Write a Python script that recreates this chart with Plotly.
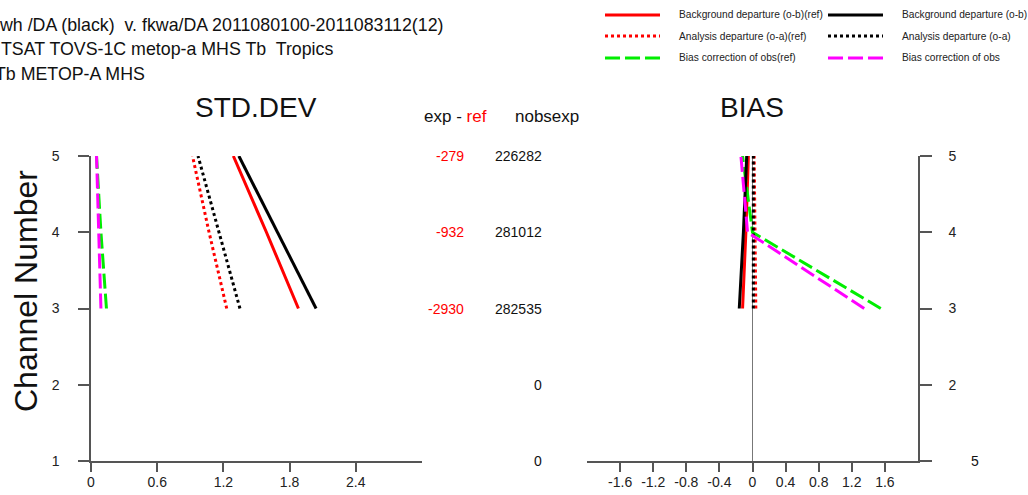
import plotly.graph_objects as go

W, H = 1028, 495

# ---------------- data ----------------
channels = [3, 4, 5]
std_bg_ref = [1.88, 1.59, 1.29]
std_bg_exp = [2.04, 1.69, 1.34]
std_an_ref = [1.23, 1.07, 0.92]
std_an_exp = [1.35, 1.16, 0.97]
std_bc_ref = [0.14, 0.09, 0.05]
std_bc_exp = [0.09, 0.07, 0.05]

bias_bg_ref = [-0.12, -0.08, -0.05]
bias_bg_exp = [-0.16, -0.11, -0.07]
bias_an_ref = [0.04, 0.03, 0.02]
bias_an_exp = [0.01, 0.01, 0.01]
bias_bc_ref = [1.55, 0.00, -0.12]
bias_bc_exp = [1.35, -0.06, -0.14]

diff_channels = [3, 4, 5]
diff_vals = [-2930, -932, -279]
nobs_channels = [1, 2, 3, 4, 5]
nobs_vals = [0, 0, 282535, 281012, 226282]

y_ticks = [1, 2, 3, 4, 5]
std_xticks = [0, 0.6, 1.2, 1.8, 2.4]
std_xlabels = ["0", "0.6", "1.2", "1.8", "2.4"]
bias_xticks = [-1.6, -1.2, -0.8, -0.4, 0, 0.4, 0.8, 1.2, 1.6]
bias_xlabels = ["-1.6", "-1.2", "-0.8", "-0.4", "0", "0.4", "0.8", "1.2", "1.6"]

title_lines = [
    "wh /DA (black)  v. fkwa/DA 2011080100-2011083112(12)",
    "TSAT TOVS-1C metop-a MHS Tb  Tropics",
    "Tb METOP-A MHS",
]

series = [
    ("Background departure (o-b)(ref)", "#ff0000", "solid", std_bg_ref, bias_bg_ref),
    ("Analysis departure (o-a)(ref)", "#ff0000", "3px,3px", std_an_ref, bias_an_ref),
    ("Bias correction of obs(ref)", "#00ee00", "15px,5px", std_bc_ref, bias_bc_ref),
    ("Background departure (o-b)", "#000000", "solid", std_bg_exp, bias_bg_exp),
    ("Analysis departure (o-a)", "#000000", "3px,3px", std_an_exp, bias_an_exp),
    ("Bias correction of obs", "#ff00ff", "15px,5px", std_bc_exp, bias_bc_exp),
]

FONT = "Liberation Sans, Arial, Helvetica, sans-serif"
AX = "#555555"


def px(x):
    return x / W


def py(y):
    return 1 - y / H


fig = go.Figure()
for name, col, dash, sv, bv in series:
    fig.add_trace(go.Scatter(x=sv, y=channels, mode="lines", name=name,
                             line=dict(color=col, width=3, dash=dash),
                             xaxis="x", yaxis="y", showlegend=False))
    fig.add_trace(go.Scatter(x=bv, y=channels, mode="lines", name=name,
                             line=dict(color=col, width=3, dash=dash),
                             xaxis="x2", yaxis="y2", showlegend=False))

ydom = [py(461), py(156)]

fig.update_layout(
    template="none",
    width=W, height=H, autosize=False,
    margin=dict(l=0, r=0, t=0, b=0, pad=0),
    paper_bgcolor="white", plot_bgcolor="white",
    font=dict(family=FONT, color="#222222", size=14),
    xaxis=dict(domain=[px(91), px(422)], range=[0, 3], anchor="y", automargin=False,
               showgrid=False, zeroline=False, showline=True, linecolor=AX, linewidth=1.5,
               ticks="outside", ticklen=9, tickwidth=1.5, tickcolor=AX,
               tickvals=std_xticks, ticktext=std_xlabels, tickfont=dict(size=14),
               ticklabelstandoff=-2),
    yaxis=dict(domain=ydom, range=[1, 5], anchor="x", automargin=False,
               showgrid=False, zeroline=False, showline=True, linecolor=AX, linewidth=1.5,
               ticks="outside", ticklen=11, tickwidth=1.5, tickcolor=AX,
               tickvals=y_ticks, tickfont=dict(size=14), ticklabelstandoff=16),
    xaxis2=dict(domain=[px(587), px(918)], range=[-2, 2], anchor="y2", automargin=False,
                showgrid=False, zeroline=True, zerolinecolor="#777777", zerolinewidth=1,
                showline=True, linecolor=AX, linewidth=1.5,
                ticks="outside", ticklen=9, tickwidth=1.5, tickcolor=AX,
                tickvals=bias_xticks, ticktext=bias_xlabels, tickfont=dict(size=14),
                ticklabelstandoff=-2),
    yaxis2=dict(domain=ydom, range=[1, 5], anchor="x2", side="right", automargin=False,
                showgrid=False, zeroline=False, showline=True, linecolor=AX, linewidth=1.5,
                ticks="outside", ticklen=12, tickwidth=1.5, tickcolor=AX,
                tickvals=y_ticks, ticktext=["", "2", "3", "4", "5"],
                tickfont=dict(size=14), ticklabelstandoff=14),
)

ann = []
# title lines (clipped at the left edge like the reference)
title_x = [-3, -1, -7]
title_y = [25, 49, 74]
for t, xx, yy in zip(title_lines, title_x, title_y):
    ann.append(dict(text=t, x=px(xx), y=py(yy), xref="paper", yref="paper",
                    xanchor="left", yanchor="middle", showarrow=False,
                    font=dict(size=17.8, color="#111111")))

# panel titles
ann.append(dict(text="STD.DEV", x=px(256), y=py(108), xref="paper", yref="paper",
                xanchor="center", yanchor="middle", showarrow=False,
                font=dict(size=28, color="#111111")))
ann.append(dict(text="BIAS", x=px(752), y=py(108), xref="paper", yref="paper",
                xanchor="center", yanchor="middle", showarrow=False,
                font=dict(size=28, color="#111111")))

# y axis title
ann.append(dict(text="Channel Number", x=px(26), y=py(291), xref="paper", yref="paper",
                xanchor="center", yanchor="middle", showarrow=False, textangle=-90,
                font=dict(size=32, color="#111111")))

# middle column headers
ann.append(dict(text='exp - <span style="color:#ff0000">ref</span>', x=px(455), y=py(117),
                xref="paper", yref="paper", xanchor="center", yanchor="middle",
                showarrow=False, font=dict(size=17, color="#111111")))
ann.append(dict(text="nobsexp", x=px(547), y=py(117), xref="paper", yref="paper",
                xanchor="center", yanchor="middle", showarrow=False,
                font=dict(size=17, color="#111111")))

for ch, v in zip(diff_channels, diff_vals):
    ann.append(dict(text=str(v), x=px(466), y=ch, xref="paper", yref="y",
                    xanchor="right", yanchor="middle", showarrow=False,
                    font=dict(size=14, color="#ff0000")))
for ch, v in zip(nobs_channels, nobs_vals):
    ann.append(dict(text=str(v), x=px(544), y=ch, xref="paper", yref="y",
                    xanchor="right", yanchor="middle", showarrow=False,
                    font=dict(size=14, color="#111111")))

# stray label at right bottom
ann.append(dict(text="5", x=px(975), y=1, xref="paper", yref="y2",
                xanchor="center", yanchor="middle", showarrow=False,
                font=dict(size=14, color="#111111")))

# legend (drawn manually, two columns, three rows)
shapes = []
leg_rows = [15, 36, 58]
leg_cols = [(605, 660, 677), (828, 883, 900)]
for i, (name, col, dash, sv, bv) in enumerate(series):
    c = i // 3
    r = i % 3
    x0, x1, xt = leg_cols[c]
    yy = leg_rows[r]
    shapes.append(dict(type="line", xref="paper", yref="paper",
                       x0=px(x0), x1=px(x1), y0=py(yy), y1=py(yy),
                       line=dict(color=col, width=3, dash=dash)))
    ann.append(dict(text=name, x=px(xt), y=py(yy), xref="paper", yref="paper",
                    xanchor="left", yanchor="middle", showarrow=False,
                    font=dict(size=10.2, color="#222222")))

fig.update_layout(annotations=ann, shapes=shapes)
fig.write_html("out.html",
               post_script="document.body.style.margin='0';"
                           "document.body.style.overflow='hidden';")
